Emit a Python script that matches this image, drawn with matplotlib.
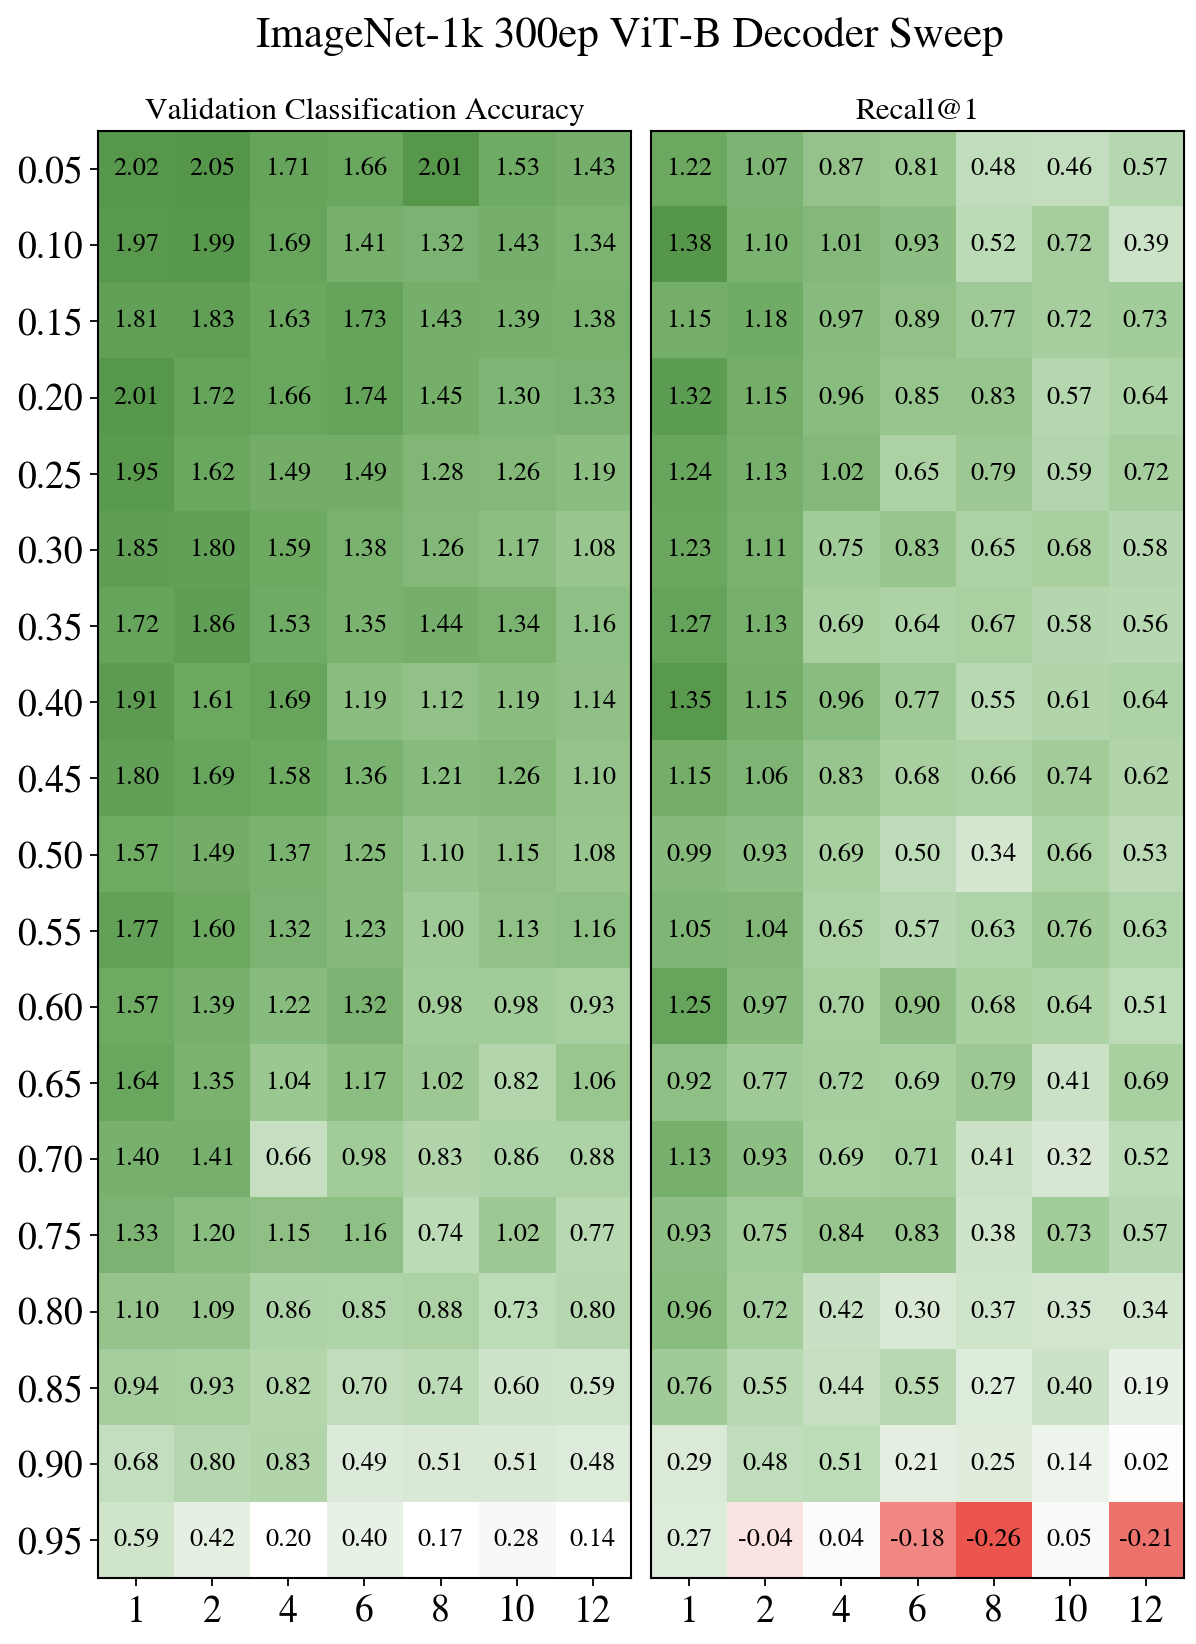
import numpy as np
import matplotlib
matplotlib.use("Agg")
import matplotlib.pyplot as plt
from matplotlib.colors import LinearSegmentedColormap, Normalize

plt.rcParams['font.family'] = ['STIXGeneral', 'Liberation Serif', 'DejaVu Serif']

# mask ratio rows, decoder depth columns
mask_ratios = ["0.05", "0.10", "0.15", "0.20", "0.25", "0.30", "0.35", "0.40", "0.45", "0.50",
               "0.55", "0.60", "0.65", "0.70", "0.75", "0.80", "0.85", "0.90", "0.95"]
depths = ["1", "2", "4", "6", "8", "10", "12"]

# Validation Classification Accuracy
acc = [
    [2.02, 2.05, 1.71, 1.66, 2.01, 1.53, 1.43],
    [1.97, 1.99, 1.69, 1.41, 1.32, 1.43, 1.34],
    [1.81, 1.83, 1.63, 1.73, 1.43, 1.39, 1.38],
    [2.01, 1.72, 1.66, 1.74, 1.45, 1.30, 1.33],
    [1.95, 1.62, 1.49, 1.49, 1.28, 1.26, 1.19],
    [1.85, 1.80, 1.59, 1.38, 1.26, 1.17, 1.08],
    [1.72, 1.86, 1.53, 1.35, 1.44, 1.34, 1.16],
    [1.91, 1.61, 1.69, 1.19, 1.12, 1.19, 1.14],
    [1.80, 1.69, 1.58, 1.36, 1.21, 1.26, 1.10],
    [1.57, 1.49, 1.37, 1.25, 1.10, 1.15, 1.08],
    [1.77, 1.60, 1.32, 1.23, 1.00, 1.13, 1.16],
    [1.57, 1.39, 1.22, 1.32, 0.98, 0.98, 0.93],
    [1.64, 1.35, 1.04, 1.17, 1.02, 0.82, 1.06],
    [1.40, 1.41, 0.66, 0.98, 0.83, 0.86, 0.88],
    [1.33, 1.20, 1.15, 1.16, 0.74, 1.02, 0.77],
    [1.10, 1.09, 0.86, 0.85, 0.88, 0.73, 0.80],
    [0.94, 0.93, 0.82, 0.70, 0.74, 0.60, 0.59],
    [0.68, 0.80, 0.83, 0.49, 0.51, 0.51, 0.48],
    [0.59, 0.42, 0.20, 0.40, 0.17, 0.28, 0.14],
]

# Recall@1
recall = [
    [1.22, 1.07, 0.87, 0.81, 0.48, 0.46, 0.57],
    [1.38, 1.10, 1.01, 0.93, 0.52, 0.72, 0.39],
    [1.15, 1.18, 0.97, 0.89, 0.77, 0.72, 0.73],
    [1.32, 1.15, 0.96, 0.85, 0.83, 0.57, 0.64],
    [1.24, 1.13, 1.02, 0.65, 0.79, 0.59, 0.72],
    [1.23, 1.11, 0.75, 0.83, 0.65, 0.68, 0.58],
    [1.27, 1.13, 0.69, 0.64, 0.67, 0.58, 0.56],
    [1.35, 1.15, 0.96, 0.77, 0.55, 0.61, 0.64],
    [1.15, 1.06, 0.83, 0.68, 0.66, 0.74, 0.62],
    [0.99, 0.93, 0.69, 0.50, 0.34, 0.66, 0.53],
    [1.05, 1.04, 0.65, 0.57, 0.63, 0.76, 0.63],
    [1.25, 0.97, 0.70, 0.90, 0.68, 0.64, 0.51],
    [0.92, 0.77, 0.72, 0.69, 0.79, 0.41, 0.69],
    [1.13, 0.93, 0.69, 0.71, 0.41, 0.32, 0.52],
    [0.93, 0.75, 0.84, 0.83, 0.38, 0.73, 0.57],
    [0.96, 0.72, 0.42, 0.30, 0.37, 0.35, 0.34],
    [0.76, 0.55, 0.44, 0.55, 0.27, 0.40, 0.19],
    [0.29, 0.48, 0.51, 0.21, 0.25, 0.14, 0.02],
    [0.27, -0.04, 0.04, -0.18, -0.26, 0.05, -0.21],
]

acc = np.array(acc)
recall = np.array(recall)

# green ramp (fraction -> rgb)
g_f = [0, 0.25, 0.36, 0.6, 0.78, 0.88, 1.0]
g_c = [(255, 255, 255), (212, 230, 208), (190, 220, 185), (153, 198, 143),
       (125, 180, 115), (110, 170, 98), (85, 150, 75)]
g_c = [tuple(c / 255 for c in col) for col in g_c]
red = (235 / 255, 85 / 255, 78 / 255)


def cmap_left(vmin, vmax):
    # white up to ~0.2, then ramp to dark green
    vals = np.interp(g_f, [0, 0.8, 0.9, 1.0], [0.2, 1.35, 1.64, vmax])
    pos = [0.0] + list((vals - vmin) / (vmax - vmin))
    cols = [g_c[0]] + g_c
    pos[-1] = 1.0
    return LinearSegmentedColormap.from_list("accg", list(zip(pos, cols)))


def cmap_right(vmin, vmax):
    zero = -vmin / (vmax - vmin)
    pos = [0.0] + [zero + f * (1 - zero) for f in g_f]
    cols = [red] + g_c
    return LinearSegmentedColormap.from_list("recg", list(zip(pos, cols)))


fig = plt.figure(figsize=(11.96, 16.44), dpi=100)
ax1 = fig.add_axes([0.0819, 0.0401, 0.4457, 0.8802])
ax2 = fig.add_axes([0.5443, 0.0401, 0.4457, 0.8802])

panels = [
    (ax1, acc, "Validation Classification Accuracy", cmap_left(acc.min(), acc.max())),
    (ax2, recall, "Recall@1", cmap_right(recall.min(), recall.max())),
]

for ax, data, name, cm in panels:
    ax.imshow(data, cmap=cm, norm=Normalize(data.min(), data.max()), aspect="auto",
              interpolation="nearest")
    for i in range(data.shape[0]):
        for j in range(data.shape[1]):
            ax.text(j, i, f"{data[i, j]:.2f}", ha="center", va="center", fontsize=19,
                    color="black")
    ax.set_title(name, fontsize=22.5, pad=9)
    ax.set_xticks(range(len(depths)))
    ax.set_xticklabels(depths, fontsize=27)
    ax.tick_params(axis="x", length=6, width=1.3, pad=6)
    for s in ax.spines.values():
        s.set_linewidth(1.5)

ax1.set_yticks(range(len(mask_ratios)))
ax1.set_yticklabels(mask_ratios, fontsize=27)
ax1.tick_params(axis="y", length=6, width=1.3, pad=5)
ax2.set_yticks([])

fig.suptitle("ImageNet-1k 300ep ViT-B Decoder Sweep", fontsize=31, x=0.527, y=0.99, va="top")

fig.savefig("out.png", dpi=100)
